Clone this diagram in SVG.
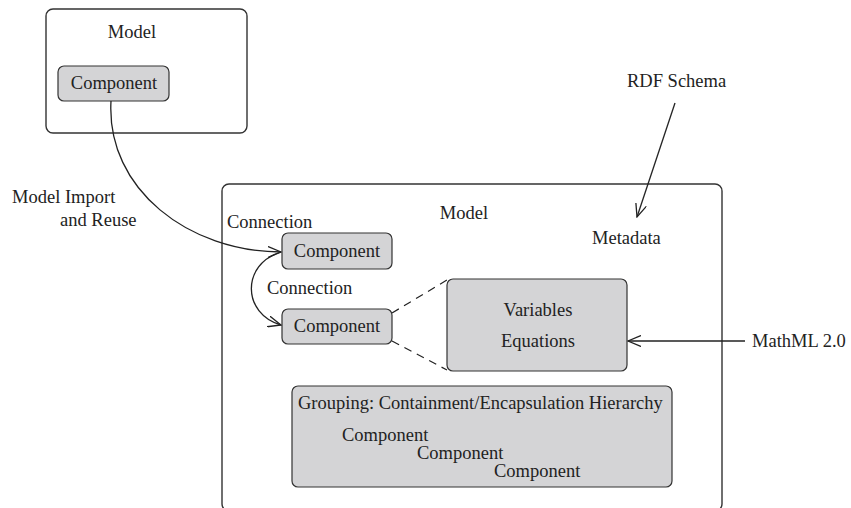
<svg xmlns="http://www.w3.org/2000/svg" width="851" height="508" viewBox="0 0 851 508">
<style>
text{font-family:"Liberation Serif","Times New Roman",serif;font-size:18.5px;fill:#222}
.frame{fill:#fff;stroke:#333;stroke-width:1.4}
.comp{fill:#d4d4d6;stroke:#333;stroke-width:1.2}
.edge{fill:none;stroke:#222;stroke-width:1.3}
.dash{fill:none;stroke:#222;stroke-width:1.2;stroke-dasharray:8 6}
.mid{text-anchor:middle}
</style>
<defs>
<marker id="open" viewBox="0 0 14 12" refX="13" refY="6" markerWidth="14" markerHeight="12" markerUnits="userSpaceOnUse" orient="auto">
<path d="M0,0.5 L13,6 L0,11.5" fill="none" stroke="#222" stroke-width="1.3"/>
</marker>
</defs>
<g id="model-top">
<rect class="frame" x="46" y="9" width="201" height="124" rx="7"/>
<text class="mid" x="132" y="38">Model</text>
</g>
<g id="component-top">
<rect class="comp" x="58" y="66" width="111" height="35" rx="6"/>
<text class="mid" x="114" y="89">Component</text>
</g>
<g id="model-main">
<rect class="frame" x="222" y="184" width="500" height="327" rx="7"/>
<text class="mid" x="464" y="219">Model</text>
<text x="592" y="244">Metadata</text>
</g>
<g id="component-1">
<rect class="comp" x="282" y="233" width="110" height="36" rx="6"/>
<text class="mid" x="337" y="257">Component</text>
</g>
<g id="component-2">
<rect class="comp" x="282" y="309" width="110" height="35" rx="6"/>
<text class="mid" x="337" y="332">Component</text>
</g>
<g id="variables">
<rect class="comp" x="447" y="279" width="180" height="92" rx="6"/>
<text class="mid" x="538" y="316">Variables</text>
<text class="mid" x="538" y="347">Equations</text>
</g>
<g id="grouping">
<rect class="comp" x="292" y="386" width="380" height="101" rx="6"/>
<text x="298" y="409">Grouping: Containment/Encapsulation Hierarchy</text>
<text x="342" y="441">Component</text>
<text x="417" y="459">Component</text>
<text x="494" y="477">Component</text>
</g>
<g id="labels">
<text x="12" y="203">Model Import</text>
<text x="60" y="226">and Reuse</text>
<text x="227" y="228">Connection</text>
<text x="267" y="294">Connection</text>
<text x="627" y="87">RDF Schema</text>
<text x="752" y="347">MathML 2.0</text>
</g>
<g id="connectors">
<path class="edge" d="M111,101 C106,190 190,252 281,252" marker-end="url(#open)"/>
<path class="edge" d="M281,252 C241,264 242,314 281,325" marker-end="url(#open)"/>
<path class="dash" d="M392,313 L447,280"/>
<path class="dash" d="M392,341 L447,370"/>
<path class="edge" d="M745,341 L628,341" marker-end="url(#open)"/>
<path class="edge" d="M675,103 L637,217" marker-end="url(#open)"/>
</g>
</svg>
